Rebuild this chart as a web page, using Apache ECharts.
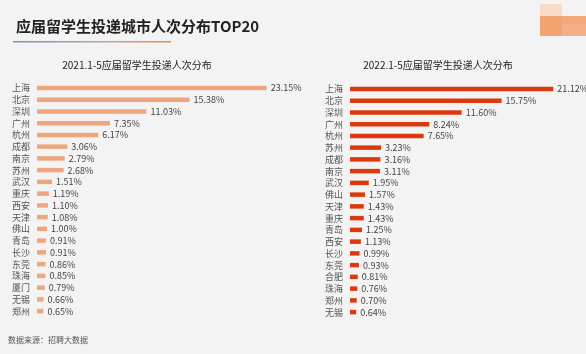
<!DOCTYPE html>
<html>
<head>
<meta charset="utf-8">
<script src="https://cdn.jsdelivr.net/npm/echarts@6/dist/echarts.min.js"></script>
<style>
  html, body { margin: 0; padding: 0; background: #f3f3f3; }
  #main { width: 586px; height: 354px; }
</style>
</head>
<body>
<div id="main"></div>
<script>
// 2021.1-5 数据
var cities2021 = ['上海', '北京', '深圳', '广州', '杭州', '成都', '南京', '苏州', '武汉', '重庆',
  '西安', '天津', '佛山', '青岛', '长沙', '东莞', '珠海', '厦门', '无锡', '郑州']
var values2021 = [23.15, 15.38, 11.03, 7.35, 6.17, 3.06, 2.79, 2.68, 1.51, 1.19,
  1.10, 1.08, 1.00, 0.91, 0.91, 0.86, 0.85, 0.79, 0.66, 0.65]

// 2022.1-5 数据
var cities2022 = ['上海', '北京', '深圳', '广州', '杭州', '苏州', '成都', '南京', '武汉', '佛山',
  '天津', '重庆', '青岛', '西安', '长沙', '东莞', '合肥', '珠海', '郑州', '无锡']
var values2022 = [21.12, 15.75, 11.60, 8.24, 7.65, 3.23, 3.16, 3.11, 1.95, 1.57,
  1.43, 1.43, 1.25, 1.13, 0.99, 0.93, 0.81, 0.76, 0.70, 0.64]

var font = '"Noto Sans CJK SC", "Noto Sans", sans-serif'

var chart = echarts.init(document.getElementById('main'))

function pct(p) {
  return p.value.toFixed(2) + '%'
}

function catAxis(idx, data) {
  return {
    type: 'category',
    gridIndex: idx,
    data: data,
    inverse: true,
    axisLine: { show: false },
    axisTick: { show: false },
    axisLabel: { fontSize: 9, color: '#555', margin: 7, fontFamily: font }
  }
}

function valAxis(idx, max) {
  return {
    type: 'value',
    gridIndex: idx,
    min: 0,
    max: max,
    show: false,
    splitLine: { show: false }
  }
}

var option = {
  backgroundColor: '#f3f3f3',
  animation: false,
  title: [
    {
      text: '应届留学生投递城市人次分布TOP20',
      left: 11, top: 14,
      textStyle: { fontSize: 15, fontWeight: 'bold', color: '#222', fontFamily: font }
    },
    {
      text: '2021.1-5应届留学生投递人次分布',
      left: 132, top: 55, textAlign: 'center',
      textStyle: { fontSize: 10, fontWeight: 'normal', color: '#222', fontFamily: font }
    },
    {
      text: '2022.1-5应届留学生投递人次分布',
      left: 433, top: 55, textAlign: 'center',
      textStyle: { fontSize: 10, fontWeight: 'normal', color: '#222', fontFamily: font }
    },
    {
      text: '数据来源：招聘大数据',
      left: 3, top: 331,
      textStyle: { fontSize: 8, fontWeight: 'normal', color: '#555', fontFamily: font }
    }
  ],
  graphic: [
    {
      type: 'rect',
      shape: { x: 13, y: 41, width: 158, height: 1.5 },
      style: {
        fill: new echarts.graphic.LinearGradient(0, 0, 1, 0, [
          { offset: 0, color: '#6f93c9' },
          { offset: 0.6, color: '#c9a0a0' },
          { offset: 1, color: '#ec8a3e' }
        ])
      }
    },
    // 右上角模糊的标志
    { type: 'rect', shape: { x: 540, y: 4, width: 22, height: 32 }, style: { fill: '#f7d2b6', opacity: 0.7 } },
    { type: 'rect', shape: { x: 540, y: 16, width: 46, height: 20 }, style: { fill: '#f2955a', opacity: 0.8 } },
    { type: 'rect', shape: { x: 562, y: 24, width: 24, height: 12 }, style: { fill: '#f5b08a', opacity: 0.8 } }
  ],
  grid: [
    { left: 37, top: 82, width: 248, height: 235 },
    { left: 350, top: 83, width: 231, height: 235 }
  ],
  xAxis: [valAxis(0, 25), valAxis(1, 24)],
  yAxis: [catAxis(0, cities2021), catAxis(1, cities2022)],
  series: [
    {
      type: 'bar',
      xAxisIndex: 0, yAxisIndex: 0,
      data: values2021,
      barWidth: 4.5,
      itemStyle: { color: '#eda67e' },
      label: { show: true, position: 'right', distance: 4, fontSize: 9, color: '#444', fontFamily: font, formatter: pct }
    },
    {
      type: 'bar',
      xAxisIndex: 1, yAxisIndex: 1,
      data: values2022,
      barWidth: 4.5,
      itemStyle: { color: '#dc3a0e' },
      label: { show: true, position: 'right', distance: 4, fontSize: 9, color: '#444', fontFamily: font, formatter: pct }
    }
  ]
}

chart.setOption(option)
</script>
</body>
</html>
